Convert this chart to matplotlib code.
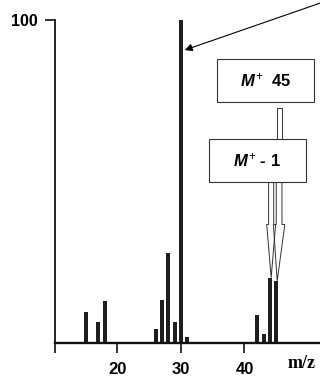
import matplotlib
matplotlib.use("Agg")
import matplotlib.pyplot as plt
from matplotlib.patches import Rectangle, Polygon

# Mass spectrum (relative abundance, %) of a compound with M+ = 45
mz = [15, 17, 18, 26, 27, 28, 29, 30, 31, 42, 43, 44, 45]
abundance = [9.5, 6.5, 13.1, 4.4, 13.3, 28.0, 6.4, 100.0, 2.0, 8.7, 2.8, 20.2, 19.2]
xtick_values = [20, 30, 40]
ytick_values = [100]
base_peak_mz = 30
molecular_ion_mz = 45
m_minus_1_mz = 44

plt.rcParams["mathtext.fontset"] = "custom"
plt.rcParams["mathtext.it"] = "Liberation Sans:italic:bold"
plt.rcParams["mathtext.rm"] = "Liberation Sans"
plt.rcParams["mathtext.bf"] = "Liberation Sans:bold"

W, H, DPI = 320, 379, 100
fig = plt.figure(figsize=(W / DPI, H / DPI), dpi=DPI)
fig.patch.set_facecolor("white")

# axes: left spine at x=55 px, baseline at y=343 px, 100% at y=20 px
ax = fig.add_axes([55 / W, (H - 343) / H, (W - 55) / W, 323 / H])
ax.set_xlim(10.16, 51.89)
ax.set_ylim(0, 100)

ax.bar(mz, abundance, width=0.62, color="#1e1e1e", edgecolor="none", zorder=2)

for side in ("top", "right"):
    ax.spines[side].set_visible(False)
ax.spines["left"].set_linewidth(1.3)
ax.spines["bottom"].set_linewidth(1.7)
ax.spines["left"].set_color("#111111")
ax.spines["bottom"].set_color("#111111")

ax.set_xticks(xtick_values)
ax.set_xticklabels([str(v) for v in xtick_values])
ax.set_xticks([ax.get_xlim()[0]], minor=True)
ax.set_yticks(ytick_values)
ax.set_yticklabels([str(v) for v in ytick_values])
ax.tick_params(axis="x", which="both", direction="out", length=7.5, width=1.2,
               pad=6.5, color="#111111")
ax.tick_params(axis="y", direction="out", length=7.5, width=1.2, pad=5,
               color="#111111")
for lab in ax.get_xticklabels():
    lab.set_fontfamily("Liberation Sans")
    lab.set_fontweight("bold")
    lab.set_fontsize(12)
for lab in ax.get_yticklabels():
    lab.set_fontfamily("Liberation Sans")
    lab.set_fontweight("bold")
    lab.set_fontsize(11.5)

fig.text(302 / W, 1 - 363 / H, "m/z", family="Liberation Serif", weight="bold",
         fontsize=13, ha="center", va="center")

# arrow pointing at the base peak
base_height = abundance[mz.index(base_peak_mz)]
ax.annotate("", xy=(base_peak_mz + 0.6, base_height - 9.3), xycoords="data",
            xytext=(332, H + 1), textcoords="figure pixels",
            arrowprops=dict(arrowstyle="-|>", lw=0.8, color="black",
                            mutation_scale=11, shrinkA=0, shrinkB=0),
            annotation_clip=False)

box_kw = dict(facecolor="white", edgecolor="#333333", linewidth=0.8, zorder=4)

# connector between the two label boxes
ax.add_patch(Rectangle((45.16, 63.2), 0.75, 9.6, facecolor="white",
                       edgecolor="#333333", linewidth=0.7, zorder=3))

# box "M+ 45"
ax.add_patch(Rectangle((35.67, 74.6), 15.27, 13.3, **box_kw))
ax.text(43.3, 81.2, r"$M^{+}$  45", fontsize=12, family="Liberation Sans",
        weight="bold", ha="center", va="center", zorder=5)

# box "M+ - 1"
ax.add_patch(Rectangle((34.41, 49.8), 15.28, 13.4, **box_kw))
ax.text(42.0, 56.5, r"$M^{+}$ - 1", fontsize=12, family="Liberation Sans",
        weight="bold", ha="center", va="center", zorder=5)


def hollow_arrow(x_tail, y_tail, x_tip, y_tip, shaft_w, head_w, head_len):
    yb = y_tip + head_len
    pts = [(x_tail - shaft_w / 2, y_tail), (x_tail - shaft_w / 2, yb),
           (x_tail - head_w / 2, yb), (x_tip, y_tip),
           (x_tail + head_w / 2, yb), (x_tail + shaft_w / 2, yb),
           (x_tail + shaft_w / 2, y_tail)]
    ax.add_patch(Polygon(pts, closed=True, fill=False, edgecolor="#333333",
                         linewidth=0.7, zorder=3))


y_tail = 49.8
h44 = abundance[mz.index(m_minus_1_mz)]
h45 = abundance[mz.index(molecular_ion_mz)]
hollow_arrow(m_minus_1_mz + 0.2, y_tail, m_minus_1_mz + 0.2, h44, 0.8, 1.4, 16.5)
hollow_arrow(molecular_ion_mz + 0.45, y_tail, molecular_ion_mz + 0.15, h45,
             0.9, 1.8, 17.5)

fig.savefig("out.png", dpi=DPI)
